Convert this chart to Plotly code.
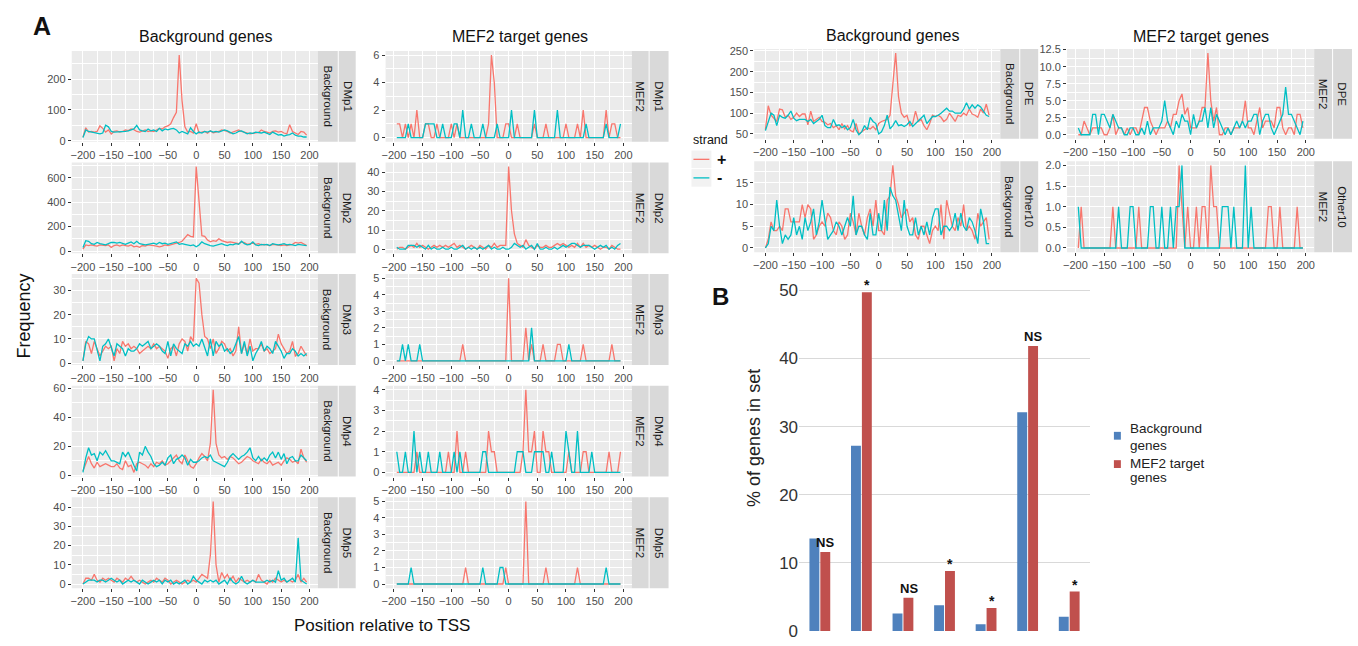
import plotly.graph_objects as go

W, H = 1358, 646
RED, TEAL = "#F8766D", "#00BFC4"
FONT = "Liberation Sans, Arial, sans-serif"

# ---------------- data ----------------
x_bg = list(range(-200, 200, 5))    # 80 positions
x_mef = list(range(-195, 200, 5))   # 79 positions

dmp1_bg_plus = [12, 42, 28, 30, 28, 30, 48, 40, 28, 35,
                22, 30, 32, 28, 30, 35, 33, 38, 36, 30,
                28, 32, 35, 30, 32, 30, 35, 40, 38, 45,
                48, 55, 75, 92, 278, 130, 45, 28, 30, 25,
                55, 25, 28, 30, 24, 32, 26, 28, 30, 35,
                33, 30, 25, 28, 30, 35, 30, 28, 25, 22,
                24, 25, 27, 35, 30, 28, 25, 30, 32, 28,
                30, 25, 22, 52, 30, 25, 20, 30, 28, 18]
dmp1_bg_minus = [10, 35, 30, 28, 25, 22, 22, 25, 50, 45,
                 30, 28, 28, 30, 28, 30, 32, 35, 38, 50,
                 35, 32, 30, 38, 32, 35, 30, 40, 32, 38,
                 35, 38, 40, 35, 25, 30, 25, 22, 42, 30,
                 22, 28, 25, 30, 28, 32, 28, 30, 28, 32,
                 35, 32, 28, 22, 25, 30, 32, 28, 22, 25,
                 24, 28, 26, 25, 28, 25, 20, 28, 22, 18,
                 20, 15, 18, 20, 25, 18, 15, 15, 12, 12]
dmp1_mef_plus = [1, 1, 0, 1, 0, 1, 0, 2, 0,
                 0, 1, 1, 0, 0, 1, 0, 0, 0, 0,
                 1, 0, 1, 0, 0, 0, 0, 0, 0, 0,
                 0, 0, 0, 1, 6, 4, 0, 0, 0, 1,
                 1, 0, 0, 1, 0, 0, 0, 0, 0, 1,
                 0, 0, 0, 1, 0, 0, 0, 0, 0, 0,
                 1, 0, 0, 0, 1, 0, 2, 0, 0, 0,
                 0, 0, 0, 0, 2, 0, 1, 1, 0, 0]
dmp1_mef_minus = [0, 0, 0, 0, 1, 0, 0, 0, 0,
                  0, 1, 1, 1, 1, 0, 0, 1, 0, 0,
                  0, 1, 1, 0, 2, 0, 0, 1, 0, 0,
                  0, 1, 0, 0, 0, 0, 1, 0, 0, 0,
                  0, 2, 0, 0, 0, 0, 0, 0, 0, 2,
                  0, 0, 0, 0, 0, 0, 0, 2, 0, 0,
                  0, 0, 0, 0, 0, 0, 0, 1, 0, 0,
                  0, 0, 0, 0, 1, 0, 0, 0, 0, 1]

dmp2_bg_plus = [15, 50, 45, 50, 45, 40, 50, 45, 45, 50,
                30, 45, 50, 40, 50, 45, 40, 50, 35, 40,
                30, 45, 40, 50, 50, 45, 40, 35, 40, 50,
                45, 50, 55, 60, 70, 80, 110, 135, 120, 115,
                690, 420, 125, 120, 90, 75, 85, 80, 100, 85,
                80, 70, 75, 70, 65, 60, 75, 70, 55, 60,
                65, 55, 60, 50, 55, 50, 45, 55, 50, 50,
                45, 50, 45, 50, 55, 70, 65, 70, 55, 45]
dmp2_bg_minus = [30, 85, 80, 60, 55, 70, 60, 55, 50, 60,
                 70, 70, 65, 70, 60, 55, 65, 75, 60, 80,
                 60, 55, 50, 55, 60, 65, 55, 70, 60, 65,
                 55, 60, 65, 75, 55, 60, 55, 50, 45, 50,
                 35, 50, 75, 60, 50, 45, 40, 45, 55, 60,
                 50, 45, 55, 50, 60, 55, 80, 60, 50, 55,
                 75, 50, 45, 55, 50, 55, 45, 60, 55, 50,
                 55, 60, 50, 55, 50, 45, 55, 50, 45, 45]
dmp2_mef_plus = [0, 1, 1, 0, 1, 2, 1, 3, 1,
                 2, 1, 0, 1, 2, 1, 2, 1, 2, 1,
                 2, 3, 1, 2, 1, 0, 1, 2, 1, 0,
                 2, 1, 0, 2, 1, 3, 1, 2, 2, 2,
                 43, 20, 8, 3, 2, 1, 5, 2, 1, 0,
                 2, 1, 1, 2, 1, 1, 2, 3, 2, 3,
                 2, 1, 2, 1, 3, 1, 3, 1, 2, 1,
                 2, 1, 0, 1, 1, 0, 2, 1, 0, 0]
dmp2_mef_minus = [1, 0, 0, 0, 2, 2, 2, 1, 2,
                  1, 0, 2, 0, 1, 0, 0, 1, 0, 0,
                  1, 0, 0, 1, 2, 0, 1, 0, 1, 0,
                  1, 0, 1, 2, 0, 1, 0, 0, 1, 0,
                  0, 1, 3, 2, 1, 2, 0, 1, 2, 0,
                  3, 0, 0, 1, 0, 0, 1, 0, 1, 2,
                  1, 2, 3, 3, 2, 1, 2, 2, 2, 1,
                  0, 1, 2, 1, 2, 0, 1, 0, 2, 3]

dmp3_bg_plus = [1, 9, 8, 4, 9, 6, 3, 5, 7, 6,
                7, 1, 6, 4, 9, 7, 8, 6, 7, 6,
                4, 5, 6, 7, 6, 8, 6, 7, 6, 5,
                2, 6, 7, 3, 8, 10, 9, 5, 11, 9,
                35, 33, 20, 11, 10, 6, 10, 4, 6, 9,
                8, 5, 6, 3, 5, 15, 4, 8, 4, 10,
                5, 6, 6, 8, 5, 6, 4, 5, 6, 12,
                8, 6, 4, 5, 9, 3, 4, 7, 5, 3]
dmp3_bg_minus = [1, 8, 11, 10, 10, 6, 1, 7, 8, 10,
                 6, 3, 8, 7, 6, 3, 6, 5, 5, 6,
                 8, 7, 8, 9, 6, 7, 8, 7, 5, 4,
                 9, 3, 8, 6, 5, 4, 8, 7, 9, 7,
                 8, 7, 10, 6, 3, 10, 3, 9, 7, 8,
                 5, 6, 4, 5, 8, 11, 4, 9, 3, 7,
                 1, 4, 6, 9, 5, 7, 6, 4, 9, 7,
                 5, 2, 4, 4, 6, 5, 3, 4, 3, 4]
dmp3_mef_plus = [0, 0, 0, 0, 0, 0, 0, 0, 0,
                 0, 0, 0, 0, 0, 0, 0, 0, 0, 0,
                 0, 0, 0, 0, 1, 0, 0, 0, 0, 0,
                 0, 0, 0, 0, 0, 0, 0, 0, 0, 0,
                 5, 0, 0, 0, 0, 0, 2, 0, 1, 0,
                 0, 0, 1, 0, 0, 0, 0, 1, 1, 0,
                 0, 0, 0, 0, 0, 0, 1, 0, 0, 0,
                 0, 0, 0, 0, 0, 0, 1, 0, 0, 0]
dmp3_mef_minus = [0, 0, 1, 0, 1, 0, 0, 0, 1,
                  0, 0, 0, 0, 0, 0, 0, 0, 0, 0,
                  0, 0, 0, 0, 0, 0, 0, 0, 0, 0,
                  0, 0, 0, 0, 0, 0, 0, 0, 0, 0,
                  0, 0, 0, 0, 0, 0, 0, 0, 2, 0,
                  0, 0, 0, 0, 0, 0, 0, 0, 0, 0,
                  0, 1, 0, 0, 0, 0, 0, 0, 0, 0,
                  0, 0, 0, 0, 0, 0, 0, 0, 0, 0]

dmp4_bg_plus = [3, 8, 13, 8, 5, 9, 6, 7, 8, 7,
                6, 6, 8, 5, 4, 10, 6, 7, 2, 8,
                9, 8, 7, 5, 8, 6, 9, 8, 10, 7,
                8, 10, 12, 14, 10, 8, 14, 10, 6, 5,
                8, 12, 15, 13, 10, 22, 59, 22, 14, 12,
                13, 11, 13, 12, 10, 8, 9, 11, 13, 12,
                10, 9, 8, 11, 9, 8, 10, 7, 8, 9,
                7, 10, 12, 11, 9, 10, 8, 18, 12, 9]
dmp4_bg_minus = [2, 12, 19, 14, 15, 10, 16, 14, 17, 13,
                 10, 10, 9, 8, 16, 13, 16, 11, 7, 3,
                 16, 14, 20, 16, 13, 8, 6, 7, 9, 7,
                 12, 14, 8, 11, 12, 14, 12, 7, 11, 9,
                 9, 10, 12, 13, 12, 14, 10, 9, 8, 7,
                 6, 9, 13, 15, 13, 11, 13, 14, 16, 19,
                 12, 10, 13, 10, 12, 10, 14, 16, 12, 16,
                 11, 15, 8, 12, 13, 10, 10, 14, 12, 10]
dmp4_mef_plus = [0, 0, 0, 0, 0, 0, 0, 1, 0,
                 0, 0, 0, 0, 0, 0, 0, 0, 0, 1,
                 0, 0, 2, 0, 0, 1, 0, 0, 0, 0,
                 0, 0, 0, 2, 1, 1, 0, 0, 0, 0,
                 0, 0, 0, 0, 0, 1, 4, 1, 1, 2,
                 0, 0, 2, 1, 1, 0, 0, 0, 0, 0,
                 0, 1, 0, 0, 0, 0, 1, 1, 0, 0,
                 0, 0, 0, 0, 0, 1, 0, 0, 0, 1]
dmp4_mef_minus = [1, 0, 0, 1, 0, 0, 2, 0, 1,
                  0, 0, 1, 0, 0, 0, 1, 0, 0, 0,
                  0, 1, 0, 1, 0, 0, 0, 0, 0, 0,
                  0, 1, 1, 0, 0, 0, 0, 0, 0, 0,
                  0, 0, 0, 1, 1, 1, 0, 0, 0, 1,
                  1, 1, 1, 0, 0, 1, 0, 0, 0, 0,
                  2, 1, 0, 0, 2, 0, 0, 0, 0, 1,
                  0, 0, 0, 0, 0, 0, 0, 0, 0, 0]

dmp5_bg_plus = [0, 3, 3, 2, 5, 2, 1, 3, 2, 3,
                2, 1, 3, 2, 1, 3, 2, 4, 2, 1,
                2, 1, 0, 1, 2, 1, 3, 2, 1, 3,
                2, 0, 1, 2, 1, 0, 1, 2, 1, 2,
                1, 3, 5, 4, 3, 15, 43, 10, 1, 6,
                3, 5, 2, 4, 1, 3, 2, 1, 2, 1,
                2, 1, 5, 2, 1, 0, 2, 1, 3, 2,
                1, 2, 1, 2, 1, 2, 5, 1, 3, 1]
dmp5_bg_minus = [0, 1, 2, 2, 2, 1, 2, 2, 1, 2,
                 3, 2, 1, 2, 0, 1, 2, 1, 2, 1,
                 0, 2, 1, 0, 1, 2, 1, 2, 0, 2,
                 1, 2, 0, 1, 0, 1, 2, 0, 1, 4,
                 2, 1, 0, 2, 1, 2, 1, 2, 0, 1,
                 2, 0, 3, 1, 0, 1, 4, 1, 0, 1,
                 2, 1, 1, 1, 1, 2, 1, 2, 1, 7,
                 2, 3, 1, 2, 3, 1, 24, 2, 1, 0]
dmp5_mef_plus = [0, 0, 0, 0, 0, 0, 0, 0, 0,
                 0, 0, 0, 0, 0, 0, 0, 0, 0, 0,
                 0, 0, 0, 0, 0, 1, 0, 0, 0, 0,
                 0, 0, 0, 0, 0, 0, 0, 0, 0, 1,
                 0, 0, 0, 0, 0, 0, 5, 0, 0, 0,
                 0, 0, 0, 1, 0, 0, 0, 0, 0, 0,
                 0, 0, 0, 0, 1, 0, 0, 0, 0, 0,
                 0, 0, 0, 0, 0, 0, 0, 0, 0, 0]
dmp5_mef_minus = [0, 0, 0, 0, 0, 1, 0, 0, 0,
                  0, 0, 0, 0, 0, 0, 0, 0, 0, 0,
                  0, 0, 0, 0, 0, 0, 0, 0, 0, 0,
                  0, 1, 0, 0, 0, 0, 0, 1, 1, 0,
                  0, 0, 0, 0, 0, 0, 0, 0, 0, 0,
                  0, 0, 0, 0, 0, 0, 0, 0, 0, 0,
                  0, 0, 0, 0, 0, 0, 0, 0, 0, 0,
                  0, 0, 0, 0, 1, 0, 0, 0, 0, 0]

dpe_bg_plus = [60, 118, 95, 88, 80, 110, 108, 90, 95, 85,
               90, 100, 92, 98, 98, 72, 105, 80, 85, 90,
               80, 78, 72, 75, 65, 70, 60, 75, 62, 70,
               58, 55, 75, 50, 55, 60, 65, 62, 68, 60,
               75, 80, 82, 85, 95, 180, 245, 140, 100, 90,
               95, 70, 75, 105, 80, 85, 70, 60, 75, 95,
               92, 95, 90, 80, 85, 100, 90, 80, 95, 92,
               100, 95, 110, 98, 95, 90, 110, 100, 122, 95]
dpe_bg_minus = [58, 80, 100, 95, 70, 95, 90, 88, 95, 105,
                88, 82, 85, 85, 85, 80, 85, 75, 80, 85,
                95, 70, 65, 65, 85, 70, 72, 65, 70, 60,
                65, 85, 60, 48, 55, 70, 60, 90, 80, 75,
                50, 55, 70, 95, 62, 70, 82, 70, 72, 68,
                72, 80, 68, 75, 80, 88, 95, 75, 85, 92,
                92, 95, 100, 105, 112, 105, 105, 100, 100, 100,
                110, 125, 110, 120, 112, 120, 115, 105, 95, 92]
dpe_mef_plus = [0, 0, 2, 1, 0, 1, 1, 1, 1,
                0, 0, 1, 3, 0, 1, 1, 0, 1, 0,
                1, 1, 0, 2, 4, 4, 2, 1, 0, 1,
                1, 1, 2, 1, 3, 3, 5, 6, 3, 4,
                1, 1, 1, 2, 4, 4, 12, 5, 2, 4,
                0, 0, 1, 1, 0, 1, 1, 1, 2, 5,
                1, 1, 0, 2, 4, 1, 2, 2, 2, 1,
                4, 4, 1, 0, 1, 1, 0, 3, 3, 1]
dpe_mef_minus = [1, 0, 0, 0, 0, 3, 3, 0, 3,
                 3, 2, 1, 3, 2, 1, 1, 0, 0, 1,
                 1, 0, 0, 1, 0, 2, 0, 1, 1, 1,
                 2, 5, 2, 1, 0, 2, 1, 3, 2, 2,
                 0, 3, 1, 2, 2, 4, 1, 4, 1, 3,
                 2, 1, 0, 1, 0, 1, 2, 1, 2, 1,
                 2, 2, 3, 3, 0, 2, 3, 3, 1, 0,
                 1, 2, 3, 7, 3, 3, 2, 1, 0, 2]

oth_bg_plus = [0, 2, 6, 4, 4, 5, 4, 9, 9, 6,
               6, 6, 6, 10, 7, 10, 9, 2, 3, 5,
               6, 5, 8, 7, 4, 3, 6, 5, 2, 3,
               8, 6, 3, 8, 5, 3, 7, 9, 5, 11,
               4, 4, 3, 11, 12, 19, 12, 10, 7, 8,
               9, 6, 7, 3, 2, 5, 5, 3, 1, 4,
               5, 4, 10, 2, 11, 8, 5, 4, 7, 5,
               10, 4, 5, 4, 2, 8, 5, 6, 7, 2]
oth_bg_minus = [0, 1, 5, 4, 11, 5, 1, 3, 2, 3,
                7, 3, 5, 2, 7, 4, 6, 9, 3, 6,
                11, 6, 2, 3, 4, 6, 5, 3, 5, 7,
                5, 12, 3, 5, 5, 3, 2, 8, 3, 3,
                8, 4, 11, 4, 14, 12, 11, 7, 4, 11,
                5, 3, 3, 7, 3, 5, 3, 6, 3, 7,
                9, 9, 3, 5, 5, 4, 5, 8, 4, 8,
                5, 4, 7, 6, 4, 1, 9, 6, 1, 1]
oth_mef_plus = [0, 1, 0, 0, 0, 0, 0, 0, 0,
                0, 0, 0, 1, 0, 0, 0, 0, 0, 0,
                0, 0, 1, 0, 0, 0, 0, 0, 0, 0,
                0, 0, 0, 0, 0, 0, 2, 1, 0, 1,
                0, 0, 1, 0, 1, 1, 0, 2, 1, 1,
                0, 0, 0, 0, 0, 0, 0, 0, 0, 0,
                0, 0, 0, 0, 0, 0, 0, 1, 1, 0,
                0, 1, 0, 0, 0, 0, 0, 1, 0, 0]
oth_mef_minus = [1, 0, 0, 0, 0, 0, 0, 0, 0,
                 0, 0, 0, 0, 0, 1, 0, 0, 0, 1,
                 1, 0, 0, 0, 0, 0, 1, 1, 0, 0,
                 1, 0, 0, 1, 0, 1, 1, 2, 0, 0,
                 0, 0, 0, 0, 0, 0, 0, 0, 0, 0,
                 0, 1, 1, 1, 0, 1, 0, 0, 0, 2,
                 0, 1, 0, 0, 0, 0, 0, 0, 0, 0,
                 0, 0, 0, 0, 0, 0, 0, 0, 0, 0]

# bar chart (panel B)
bar_groups = [1, 2, 3, 4, 5, 6, 7]
bar_background = [13.6, 27.2, 2.6, 3.8, 1.0, 32.1, 2.1]
bar_mef2 = [11.6, 49.7, 4.9, 8.8, 3.4, 41.8, 5.8]
bar_marks = ["NS", "*", "NS", "*", "*", "NS", "*"]

# ---------------- layout helpers ----------------
def fx(p):
    return p / W


def fy(p):
    return 1 - p / H


def note(x, y, text, size, color="#111111", xanchor="center", yanchor="middle", angle=0, **kw):
    d = dict(x=x, y=y, xref=kw.pop("xref", "paper"), yref=kw.pop("yref", "paper"), text=text,
             showarrow=False, xanchor=xanchor, yanchor=yanchor, textangle=angle,
             font=dict(family=FONT, size=size, color=color))
    d.update(kw)
    return d


fig = go.Figure()
shapes, annos = [], []
layout = {}

LB, LM = (68, 315), (383, 630)
RB, RM = (753, 1000), (1067, 1315)
rows_left = [(47 + 114.25 * i, 47 + 114.25 * i + 93) for i in range(5)]
rows_right = [(45, 137), (160, 253)]

panels = [
    (LB, rows_left[0], x_bg, dmp1_bg_plus, dmp1_bg_minus, 100, "", ["Background", "DMp1"], [(315, 335), (336, 353)]),
    (LM, rows_left[0], x_mef, dmp1_mef_plus, dmp1_mef_minus, 2, "", ["MEF2", "DMp1"], [(630, 647), (648, 667)]),
    (LB, rows_left[1], x_bg, dmp2_bg_plus, dmp2_bg_minus, 200, "", ["Background", "DMp2"], [(315, 335), (336, 353)]),
    (LM, rows_left[1], x_mef, dmp2_mef_plus, dmp2_mef_minus, 10, "", ["MEF2", "DMp2"], [(630, 647), (648, 667)]),
    (LB, rows_left[2], x_bg, dmp3_bg_plus, dmp3_bg_minus, 10, "", ["Background", "DMp3"], [(315, 335), (336, 353)]),
    (LM, rows_left[2], x_mef, dmp3_mef_plus, dmp3_mef_minus, 1, "", ["MEF2", "DMp3"], [(630, 647), (648, 667)]),
    (LB, rows_left[3], x_bg, dmp4_bg_plus, dmp4_bg_minus, 20, "", ["Background", "DMp4"], [(315, 335), (336, 353)]),
    (LM, rows_left[3], x_mef, dmp4_mef_plus, dmp4_mef_minus, 1, "", ["MEF2", "DMp4"], [(630, 647), (648, 667)]),
    (LB, rows_left[4], x_bg, dmp5_bg_plus, dmp5_bg_minus, 10, "", ["Background", "DMp5"], [(315, 335), (336, 353)]),
    (LM, rows_left[4], x_mef, dmp5_mef_plus, dmp5_mef_minus, 1, "", ["MEF2", "DMp5"], [(630, 647), (648, 667)]),
    (RB, rows_right[0], x_bg, dpe_bg_plus, dpe_bg_minus, 50, "", ["Background", "DPE"], [(1000, 1019), (1020, 1038)]),
    (RM, rows_right[0], x_mef, dpe_mef_plus, dpe_mef_minus, 2.5, ".1f", ["MEF2", "DPE"], [(1315, 1333), (1334, 1353)]),
    (RB, rows_right[1], x_bg, oth_bg_plus, oth_bg_minus, 5, "", ["Background", "Other10"], [(1000, 1019), (1020, 1038)]),
    (RM, rows_right[1], x_mef, oth_mef_plus, oth_mef_minus, 0.5, ".1f", ["MEF2", "Other10"], [(1315, 1333), (1334, 1353)]),
]

tickfont = dict(family=FONT, size=11, color="#4D4D4D")

for i, (xp, yp, xd, yplus, yminus, dt, fmt, slabels, spx) in enumerate(panels, start=1):
    assert len(xd) == len(yplus) == len(yminus), (i, len(xd), len(yplus), len(yminus))
    sfx = "" if i == 1 else str(i)
    xr_lo, xr_hi = min(xd), max(xd)
    dx = xr_hi - xr_lo
    vals = yplus + yminus
    y_lo, y_hi = min(vals), max(vals)
    dy = y_hi - y_lo
    for yy, col in ((yplus, RED), (yminus, TEAL)):
        fig.add_trace(go.Scatter(x=xd, y=yy, mode="lines", line=dict(color=col, width=1.3),
                                 xaxis="x" + sfx, yaxis="y" + sfx, showlegend=False,
                                 hoverinfo="x+y"))
    layout["xaxis" + sfx] = dict(
        domain=[fx(xp[0]), fx(xp[1])], anchor="y" + sfx,
        range=[xr_lo - 0.05 * dx, xr_hi + 0.05 * dx],
        tickmode="linear", tick0=0, dtick=50,
        showgrid=True, gridcolor="white", gridwidth=1.1,
        minor=dict(dtick=25, tick0=0, showgrid=True, gridcolor="white", gridwidth=0.5),
        ticks="outside", ticklen=3, tickcolor="#333333", tickwidth=1,
        zeroline=False, showline=False, tickfont=tickfont, fixedrange=True)
    layout["yaxis" + sfx] = dict(
        domain=[fy(yp[1]), fy(yp[0])], anchor="x" + sfx,
        range=[y_lo - 0.05 * dy, y_hi + 0.05 * dy],
        tickmode="linear", tick0=0, dtick=dt, tickformat=fmt,
        showgrid=True, gridcolor="white", gridwidth=1.1,
        minor=dict(dtick=dt / 2, tick0=0, showgrid=True, gridcolor="white", gridwidth=0.5),
        ticks="outside", ticklen=3, tickcolor="#333333", tickwidth=1,
        zeroline=False, showline=False, tickfont=tickfont, fixedrange=True)
    shapes.append(dict(type="rect", xref="x" + sfx + " domain", yref="y" + sfx + " domain",
                       x0=0, x1=1, y0=0, y1=1, fillcolor="#EBEBEB", line=dict(width=0), layer="below"))
    for lab, (s0, s1) in zip(slabels, spx):
        shapes.append(dict(type="rect", xref="paper", yref="paper",
                           x0=fx(s0), x1=fx(s1), y0=fy(yp[1]), y1=fy(yp[0]),
                           fillcolor="#D9D9D9", line=dict(width=0), layer="below"))
        annos.append(note(fx((s0 + s1) / 2), fy((yp[0] + yp[1]) / 2), lab, 11.5, "#1A1A1A", angle=90))

# ---------------- bar chart B ----------------
bsfx = str(len(panels) + 1)
fig.add_trace(go.Bar(x=bar_groups, y=bar_background, name="Background genes",
                     marker=dict(color="#4F81BD", line=dict(width=0)),
                     xaxis="x" + bsfx, yaxis="y" + bsfx, showlegend=False))
fig.add_trace(go.Bar(x=bar_groups, y=bar_mef2, name="MEF2 target genes",
                     marker=dict(color="#C0504D", line=dict(width=0)),
                     xaxis="x" + bsfx, yaxis="y" + bsfx, showlegend=False))
layout["xaxis" + bsfx] = dict(domain=[fx(798), fx(1090)], anchor="y" + bsfx,
                              range=[0.5, 7.5], showticklabels=False, ticks="",
                              showgrid=False, zeroline=False, showline=False, fixedrange=True)
layout["yaxis" + bsfx] = dict(domain=[fy(641), fy(641 - 51 * 6.98)], anchor="x" + bsfx,
                              range=[0, 51], tickmode="linear", tick0=0, dtick=10,
                              showgrid=True, gridcolor="#D9D9D9", gridwidth=1,
                              zeroline=False, showline=False, ticks="",
                              ticklabeloverflow="allow",
                              tickfont=dict(family=FONT, size=17, color="#333333"),
                              fixedrange=True)
for g, v, m in zip(bar_groups, bar_mef2, bar_marks):
    annos.append(note(g + 0.135, v, "<b>%s</b>" % m, 13 if m == "NS" else 14, "#111111",
                      yanchor="bottom", xref="x" + bsfx, yref="y" + bsfx,
                      yshift=-3 if m == "*" else 0))

for yc, col in ((441, "#4F81BD"), (470, "#C0504D")):
    shapes.append(dict(type="rect", xref="paper", yref="paper",
                       x0=fx(1114), x1=fx(1121), y0=fy(yc + 4), y1=fy(yc - 4),
                       fillcolor=col, line=dict(width=0)))
for txt, yc in (("Background", 434), ("genes", 451), ("MEF2 target", 469), ("genes", 484)):
    annos.append(note(fx(1128), fy(yc), txt, 13.5, "#222222", xanchor="left"))

# strand legend
annos.append(note(fx(690), fy(138), "strand", 12.5, "#111111", xanchor="left"))
for yc, col, lab in ((158, RED, "+"), (177, TEAL, "-")):
    shapes.append(dict(type="rect", xref="paper", yref="paper",
                       x0=fx(690), x1=fx(710), y0=fy(yc + 9), y1=fy(yc - 9),
                       fillcolor="#F2F2F2", line=dict(width=0)))
    shapes.append(dict(type="line", xref="paper", yref="paper",
                       x0=fx(692), x1=fx(708), y0=fy(yc), y1=fy(yc),
                       line=dict(color=col, width=1.3)))
    annos.append(note(fx(714), fy(yc), "<b>%s</b>" % lab, 16, "#111111", xanchor="left"))

for txt, xc, yc in (("Background genes", 202, 32), ("MEF2 target genes", 518, 32),
                    ("Background genes", 892, 31), ("MEF2 target genes", 1201, 32)):
    annos.append(note(fx(xc), fy(yc), txt, 16, "#111111"))
annos.append(note(fx(38), fy(22), "<b>A</b>", 25))
annos.append(note(fx(719), fy(298), "<b>B</b>", 24))
annos.append(note(fx(20), fy(318), "Frequency", 18, angle=-90))
annos.append(note(fx(379), fy(635), "Position relative to TSS", 17))
annos.append(note(fx(752), fy(443), "% of genes in set", 18, "#222222", angle=-90))

fig.update_layout(
    width=W, height=H, margin=dict(l=0, r=0, t=0, b=0),
    paper_bgcolor="white", plot_bgcolor="white",
    barmode="group", bargap=0.476, bargroupgap=0.09,
    shapes=shapes, annotations=annos, showlegend=False,
    font=dict(family=FONT), **layout)

fig.write_html("out.html", config={"displayModeBar": False},
               post_script="document.body.style.margin='0';")
